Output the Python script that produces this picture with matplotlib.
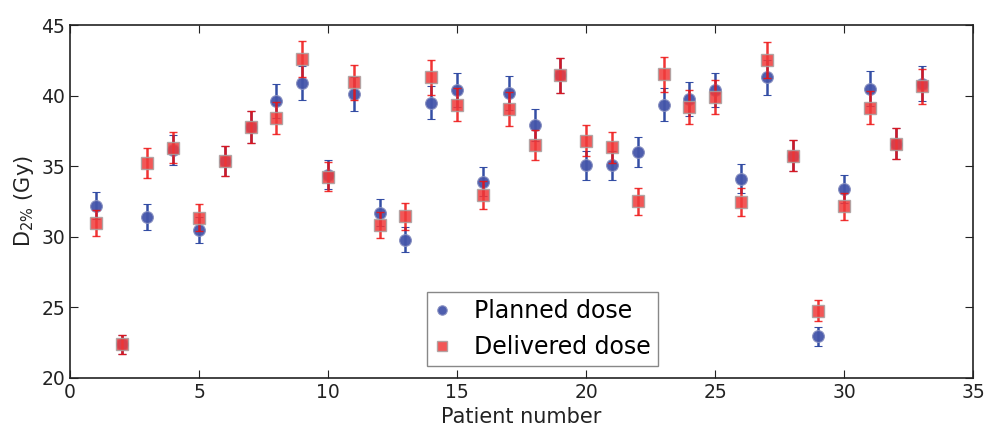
import matplotlib
matplotlib.use("Agg")
import matplotlib.pyplot as plt

# Datos (D2% en Gy por paciente).
patients = list(range(1, 34))
planned = [32.2, 22.4, 31.4, 36.15, 30.5, 35.35, 37.75, 39.6, 40.9, 34.4,
           40.1, 31.7, 29.8, 39.5, 40.4, 33.9, 40.15, 37.9, 41.45, 35.05,
           35.05, 36.0, 39.35, 39.75, 40.4, 34.1, 41.3, 35.75, 22.95, 33.4,
           40.5, 36.6, 40.85]
delivered = [31.0, 22.4, 35.2, 36.3, 31.35, 35.4, 37.75, 38.4, 42.6, 34.25,
             40.95, 30.85, 31.45, 41.3, 39.35, 32.95, 39.05, 36.5, 41.45, 36.8,
             36.35, 32.5, 41.5, 39.2, 39.9, 32.45, 42.55, 35.75, 24.75, 32.15,
             39.15, 36.6, 40.65]
rel_err = 0.03  # incertidumbre relativa de las barras

planned_err = [v * rel_err for v in planned]
delivered_err = [v * rel_err for v in delivered]

plt.rcParams["font.family"] = "DejaVu Sans"
fig = plt.figure(figsize=(9.88, 4.26), dpi=100)
ax = fig.add_axes([0.0709, 0.1127, 0.9141, 0.8286])

ax.errorbar(patients, planned, yerr=planned_err, fmt="o", color="#4455aa",
            ecolor="#2a45a0", elinewidth=1.8, capsize=3, capthick=1.5,
            markersize=8.5, markeredgecolor="#8890c0", markeredgewidth=0.8,
            alpha=0.95, label="Planned dose", zorder=2)
ax.errorbar(patients, delivered, yerr=delivered_err, fmt="s", color="#f03a3a",
            ecolor="#ee1111", elinewidth=1.8, capsize=3, capthick=1.5,
            markersize=8.5, markeredgecolor="#a8a0a0", markeredgewidth=1.0,
            alpha=0.85, label="Delivered dose", zorder=3)

ax.set_xlim(0, 35)
ax.set_ylim(20, 45)
ax.set_xticks(range(0, 36, 5))
ax.set_yticks(range(20, 46, 5))
ax.tick_params(direction="in", length=6, top=True, right=True,
               labelsize=13.5, colors="#222222")
for s in ax.spines.values():
    s.set_linewidth(1.2)
    s.set_color("#222222")

ax.set_xlabel("Patient number", fontsize=15, color="#222222")
ax.set_ylabel("D$_{2\\%}$ (Gy)", fontsize=15, color="#222222")

handles, labels = ax.get_legend_handles_labels()
handles = [h[0] for h in handles]
leg = ax.legend(handles, labels, loc="lower left", bbox_to_anchor=(0.395, 0.034),
                borderaxespad=0, numpoints=1, markerscale=0.8, fontsize=17,
                fancybox=False, framealpha=1, edgecolor="#888888",
                handlelength=0.7, handletextpad=1.0, borderpad=0.3,
                labelspacing=0.5)
leg.get_frame().set_linewidth(1.0)

fig.savefig("out.png", dpi=100)
